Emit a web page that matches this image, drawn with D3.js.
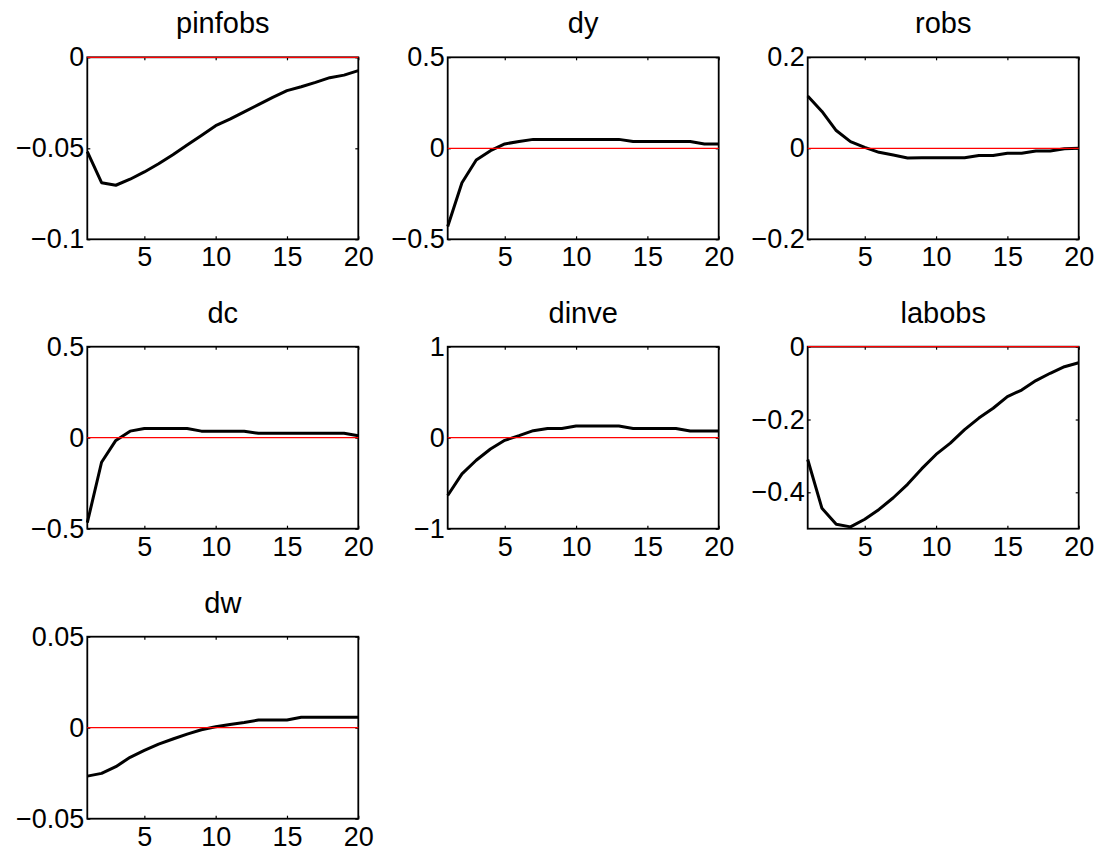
<!DOCTYPE html>
<html>
<head>
<meta charset="utf-8">
<script src="https://cdn.jsdelivr.net/npm/d3@7"></script>
<style>
  html, body { margin: 0; padding: 0; background: #fff; }
  svg { display: block; }
  text { font-family: "Liberation Sans", Arial, Helvetica, sans-serif; fill: #000; }
</style>
</head>
<body>
<svg id="fig" width="1104" height="863"></svg>
<script>
// Impulse responses over 20 periods, one small array per observed variable
const periods = [1, 2, 3, 4, 5, 6, 7, 8, 9, 10, 11, 12, 13, 14, 15, 16, 17, 18, 19, 20];

const titles = ["pinfobs", "dy", "robs", "dc", "dinve", "labobs", "dw"];

const pinfobs = [-0.0518, -0.0689, -0.0703, -0.0670, -0.0630, -0.0585, -0.0535, -0.0482, -0.0430, -0.0376,
                 -0.0340, -0.0300, -0.0260, -0.0220, -0.0183, -0.0162, -0.0138, -0.0112, -0.0098, -0.0073];
const dy      = [-0.430, -0.189, -0.064, -0.013, 0.024, 0.037, 0.049, 0.049, 0.049, 0.049,
                 0.049, 0.049, 0.049, 0.037, 0.037, 0.037, 0.037, 0.037, 0.024, 0.024];
const robs    = [0.115, 0.081, 0.039, 0.0147, 0.0022, -0.0088, -0.0147, -0.0212, -0.021, -0.021,
                 -0.021, -0.021, -0.016, -0.016, -0.011, -0.011, -0.006, -0.006, -0.001, 0.000];
const dc      = [-0.467, -0.135, -0.015, 0.036, 0.051, 0.051, 0.051, 0.051, 0.036, 0.036,
                 0.036, 0.036, 0.024, 0.024, 0.024, 0.024, 0.024, 0.024, 0.024, 0.011];
const dinve   = [-0.635, -0.398, -0.248, -0.124, -0.029, 0.022, 0.077, 0.102, 0.102, 0.128,
                 0.128, 0.128, 0.128, 0.102, 0.102, 0.102, 0.102, 0.073, 0.073, 0.073];
const labobs  = [-0.310, -0.444, -0.488, -0.495, -0.474, -0.447, -0.415, -0.378, -0.335, -0.296,
                 -0.265, -0.228, -0.196, -0.169, -0.137, -0.119, -0.093, -0.073, -0.055, -0.044];
const dw      = [-0.0266, -0.0251, -0.0214, -0.0163, -0.0125, -0.0090, -0.0062, -0.0035, -0.0011, 0.0005,
                 0.0018, 0.0029, 0.0042, 0.0042, 0.0042, 0.0057, 0.0057, 0.0057, 0.0057, 0.0057];

const seriesList = [pinfobs, dy, robs, dc, dinve, labobs, dw];

const yDomains = [[-0.1, 0], [-0.5, 0.5], [-0.2, 0.2], [-0.5, 0.5], [-1, 1], [-0.5, 0], [-0.05, 0.05]];
const yTicks = [[-0.1, -0.05, 0], [-0.5, 0, 0.5], [-0.2, 0, 0.2], [-0.5, 0, 0.5], [-1, 0, 1], [-0.4, -0.2, 0], [-0.05, 0, 0.05]];
const yTickLabels = [["\u22120.1", "\u22120.05", "0"], ["\u22120.5", "0", "0.5"], ["\u22120.2", "0", "0.2"],
                     ["\u22120.5", "0", "0.5"], ["\u22121", "0", "1"], ["\u22120.4", "\u22120.2", "0"],
                     ["\u22120.05", "0", "0.05"]];
const xTicks = [5, 10, 15, 20];
const xTickLabels = ["5", "10", "15", "20"];

// 3x3 subplot grid
const colLeft = [87.3, 447.7, 807.7];
const rowTop = [57.3, 346.7, 636.7];
const panelW = 271, panelH = 182;
const tickFont = 27, titleFont = 29;

const svg = d3.select("#fig");

seriesList.forEach((vals, i) => {
  const col = i % 3, row = Math.floor(i / 3);
  const g = svg.append("g").attr("transform", `translate(${colLeft[col]},${rowTop[row]})`);

  const x = d3.scaleLinear().domain([1, 20]).range([0, panelW]);
  const y = d3.scaleLinear().domain(yDomains[i]).range([panelH, 0]);

  // axes box
  g.append("rect")
    .attr("x", 0).attr("y", 0).attr("width", panelW).attr("height", panelH)
    .attr("fill", "none").attr("stroke", "#000").attr("stroke-width", 1.8);

  // inward ticks on all four sides
  const yLabels = yTickLabels[i];
  const bottom = g.append("g").attr("transform", `translate(0,${panelH})`)
    .call(d3.axisBottom(x).tickValues(xTicks).tickSize(-3).tickPadding(8)
      .tickFormat((d, k) => xTickLabels[k]));
  const left = g.append("g")
    .call(d3.axisLeft(y).tickValues(yTicks[i]).tickSize(-3).tickPadding(3)
      .tickFormat((d, k) => yLabels[k]));
  const top = g.append("g")
    .call(d3.axisTop(x).tickValues(xTicks).tickSize(-3).tickFormat(""));
  const right = g.append("g").attr("transform", `translate(${panelW},0)`)
    .call(d3.axisRight(y).tickValues(yTicks[i]).tickSize(-3).tickFormat(""));

  [bottom, left, top, right].forEach(a => {
    a.select(".domain").remove();
    a.selectAll(".tick line").attr("stroke", "#000").attr("stroke-width", 1.2);
    a.selectAll("text").attr("font-size", tickFont).attr("fill", "#000")
      .style("font-family", '"Liberation Sans", Arial, Helvetica, sans-serif');
  });

  // response path
  const line = d3.line().x((d, k) => x(periods[k])).y(d => y(d));
  g.append("path").datum(vals)
    .attr("d", line)
    .attr("fill", "none").attr("stroke", "#000").attr("stroke-width", 3)
    .attr("stroke-linejoin", "round");

  // zero reference line
  g.append("line")
    .attr("x1", x(1)).attr("x2", x(20))
    .attr("y1", y(0)).attr("y2", y(0))
    .attr("stroke", "#ff0000").attr("stroke-width", 1.2);

  // panel title
  g.append("text")
    .attr("x", panelW / 2).attr("y", -24)
    .attr("text-anchor", "middle")
    .attr("font-size", titleFont)
    .text(titles[i]);
});
</script>
</body>
</html>
